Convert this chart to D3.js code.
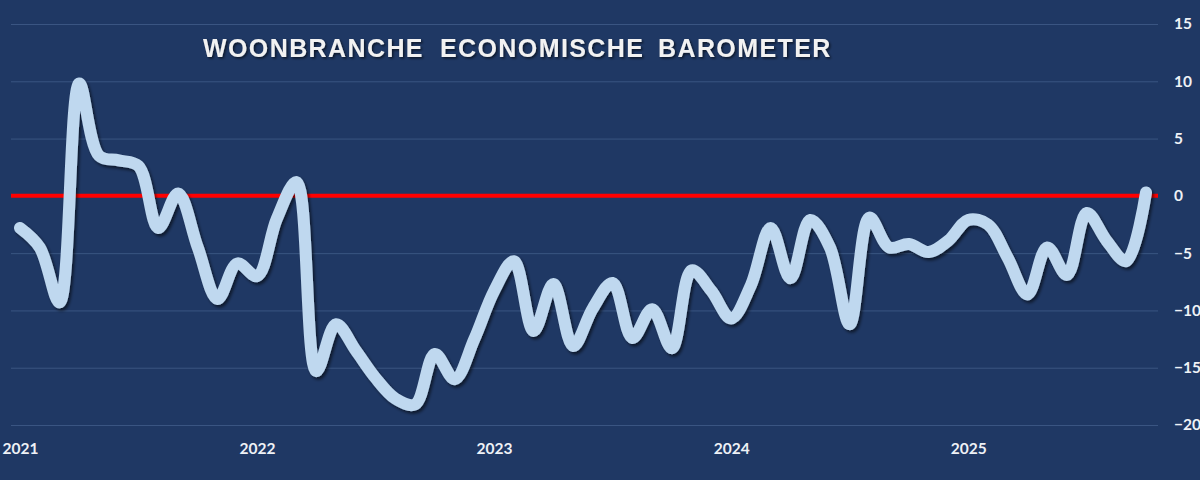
<!DOCTYPE html>
<html>
<head>
<meta charset="utf-8">
<script src="https://cdn.jsdelivr.net/npm/d3@7"></script>
<style>
  html, body { margin: 0; padding: 0; background: #1f3864; }
  svg { display: block; }
</style>
</head>
<body>
<svg id="chart" width="1200" height="480"></svg>
<script>
// monthly barometer, jan 2021 - okt 2025
const values = [
  -2.8, -4.5, -9.3, 9.8, 3.5, 3.1, 2.6, -2.8, 0.2, -4.5, -9.0, -5.9,
  -7.0, -2.0, 1.2, -15.3, -11.2, -13.5, -15.9, -17.7, -18.2, -13.8, -16.0, -12.5,
  -8.3, -5.7, -11.8, -7.7, -13.1, -9.8, -7.6, -12.4, -9.9, -13.3, -6.5, -8.3,
  -10.7, -7.8, -2.8, -7.2, -2.1, -4.5, -11.2, -1.9, -4.5, -4.2, -4.9, -3.9,
  -2.1, -2.5, -5.4, -8.6, -4.5, -6.9, -1.5, -3.9, -5.7, 0.3
];
const yearLabels = ["2021", "2022", "2023", "2024", "2025"];
const yearIndex = [0, 12, 24, 36, 48];
const yTicks = [15, 10, 5, 0, -5, -10, -15, -20];
const titleWords = ["WOONBRANCHE", "ECONOMISCHE", "BAROMETER"];

let svg = d3.select("#chart"),
    plotLeft = 11, plotRight = 1158, plotTop = 24, plotBottom = 425;

let x = d3.scaleLinear().domain([0, values.length - 1]).range([20, 1146]),
    y = d3.scaleLinear().domain([-20, 15]).range([plotBottom, plotTop]);

svg.append("rect")
    .attr("width", 1200)
    .attr("height", 480)
    .attr("fill", "#1f3864");

let defs = svg.append("defs");
let f = defs.append("filter").attr("id", "shadow")
    .attr("x", "-5%").attr("y", "-10%").attr("width", "110%").attr("height", "130%");
f.append("feDropShadow")
    .attr("dx", 2).attr("dy", 2.5)
    .attr("stdDeviation", 1.6)
    .attr("flood-color", "#000")
    .attr("flood-opacity", 0.55);

let tf = defs.append("filter").attr("id", "tshadow");
tf.append("feDropShadow")
    .attr("dx", 1.5).attr("dy", 1.5)
    .attr("stdDeviation", 1)
    .attr("flood-color", "#000")
    .attr("flood-opacity", 0.6);

// gridlines
svg.append("g")
    .attr("transform", "translate(" + plotLeft + ",0)")
    .call(d3.axisRight(y).tickValues(yTicks).tickSize(plotRight - plotLeft).tickFormat(""))
    .call(g => g.select(".domain").remove())
    .call(g => g.selectAll("line").attr("stroke", "#3a5582").attr("stroke-width", 1));

// y labels right
svg.append("g")
    .attr("transform", "translate(" + plotRight + ",0)")
    .call(d3.axisRight(y).tickValues(yTicks).tickSize(0).tickPadding(16))
    .call(g => g.select(".domain").remove())
    .call(g => g.selectAll("text")
        .attr("fill", "#eef1f6")
        .style("font", "700 15.5px Lato"));

// x year labels
svg.append("g")
    .attr("transform", "translate(0," + (plotBottom + 15) + ")")
    .call(d3.axisBottom(x).tickValues(yearIndex).tickSize(0)
        .tickFormat((d, i) => yearLabels[i]))
    .call(g => g.select(".domain").remove())
    .call(g => g.selectAll("text")
        .attr("fill", "#eef1f6")
        .style("font", "700 15.5px Lato"));

// zero line
svg.append("line")
    .attr("x1", plotLeft).attr("x2", plotRight)
    .attr("y1", y(0)).attr("y2", y(0))
    .attr("stroke", "#ff0000")
    .attr("stroke-width", 4);

let line = d3.line()
    .curve(d3.curveCatmullRom.alpha(0.5))
    .x((d, i) => x(i))
    .y(d => y(d));

svg.append("path")
    .datum(values)
    .attr("d", line)
    .attr("fill", "none")
    .attr("stroke", "#bfd8ef")
    .attr("stroke-width", 12)
    .attr("stroke-linecap", "round")
    .attr("stroke-linejoin", "round")
    .attr("filter", "url(#shadow)");

// title, word by word
let wordX = [203, 440, 658];
svg.append("text")
    .attr("y", 57)
    .attr("fill", "#f2f2f2")
    .attr("filter", "url(#tshadow)")
    .style("font", "700 25px 'Liberation Sans'")
    .style("letter-spacing", "1.4px")
    .selectAll("tspan")
    .data(titleWords)
    .enter().append("tspan")
    .attr("x", (d, i) => wordX[i])
    .text(d => d);
</script>
</body>
</html>
